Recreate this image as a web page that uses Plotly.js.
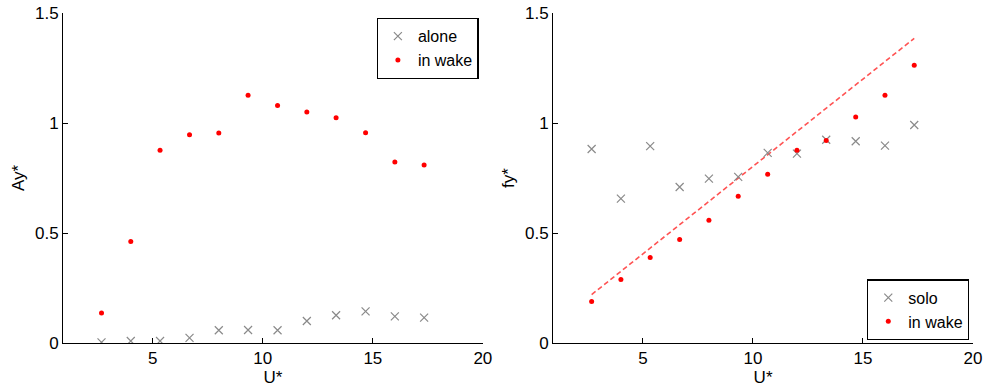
<!DOCTYPE html>
<html>
<head>
<meta charset="utf-8">
<script src="https://cdn.plot.ly/plotly-3.0.1.min.js"></script>
<style>html,body{margin:0;padding:0;background:#fff;}</style>
</head>
<body>
<div id="chart" style="width:984px;height:387px;"></div>
<script>
// Reduced velocity U*
const uStar = [2.67, 4.0, 5.33, 6.67, 8.0, 9.33, 10.67, 12.0, 13.33, 14.67, 16.0, 17.33];
// Left panel: Ay*
const ayAlone = [0.003, 0.009, 0.009, 0.023, 0.058, 0.059, 0.058, 0.100, 0.126, 0.144, 0.121, 0.115];
const ayWake  = [0.136, 0.461, 0.876, 0.947, 0.955, 1.126, 1.079, 1.050, 1.024, 0.956, 0.823, 0.809];
// Right panel: fy*
const fySolo  = [0.882, 0.656, 0.895, 0.709, 0.747, 0.755, 0.864, 0.861, 0.924, 0.917, 0.897, 0.991];
const fyWake  = [0.189, 0.289, 0.389, 0.471, 0.558, 0.667, 0.767, 0.876, 0.921, 1.027, 1.126, 1.262];
// Dashed reference line (right panel)
const fitX = [2.67, 17.33];
const fitY = [0.22, 1.385];

const xTicks = [5, 10, 15, 20];
const yTicks = [0, 0.5, 1, 1.5];
const yTickText = ['0', '0.5', '1', '1.5'];

const FONT = 'Liberation Sans, Arial, Helvetica, sans-serif';
const grayX = {symbol: 'x-thin', size: 8, color: '#8a8a8a', line: {color: '#8a8a8a', width: 1.2}};
const redDot = {symbol: 'circle', size: 5, color: '#ff0000'};

const traces = [
  {x: uStar, y: ayAlone, type: 'scatter', mode: 'markers', name: 'alone', marker: grayX, xaxis: 'x', yaxis: 'y', legend: 'legend'},
  {x: uStar, y: ayWake, type: 'scatter', mode: 'markers', name: 'in wake', marker: redDot, xaxis: 'x', yaxis: 'y', legend: 'legend'},
  {x: fitX, y: fitY, type: 'scatter', mode: 'lines', showlegend: false, line: {color: 'rgba(255,40,40,0.8)', width: 1.6, dash: '5px,3px'}, xaxis: 'x2', yaxis: 'y2', hoverinfo: 'skip'},
  {x: uStar, y: fySolo, type: 'scatter', mode: 'markers', name: 'solo', marker: grayX, xaxis: 'x2', yaxis: 'y2', legend: 'legend2'},
  {x: uStar, y: fyWake, type: 'scatter', mode: 'markers', name: 'in wake', marker: redDot, xaxis: 'x2', yaxis: 'y2', legend: 'legend2'}
];

function xAx(domain, anchor) {
  return {
    domain: domain, anchor: anchor, range: [0.92, 20], tickvals: xTicks,
    showline: true, linecolor: '#000', linewidth: 1, ticks: 'inside', ticklen: 5, tickcolor: '#000',
    showgrid: false, zeroline: false, tickfont: {family: FONT, size: 17, color: '#000'},
    title: {text: 'U*', font: {family: FONT, size: 17, color: '#000'}, standoff: 0}
  };
}
function yAx(anchor, label) {
  return {
    domain: [0, 1], anchor: anchor, range: [0, 1.5], tickvals: yTicks, ticktext: yTickText,
    showline: true, linecolor: '#000', linewidth: 1, ticks: 'inside', ticklen: 5, tickcolor: '#000',
    showgrid: false, zeroline: false, tickfont: {family: FONT, size: 17, color: '#000'},
    title: {text: label, font: {family: FONT, size: 17, color: '#000'}, standoff: 6}
  };
}

const legendFont = {family: FONT, size: 16, color: '#000'};
const layout = {
  width: 984, height: 387,
  margin: {l: 63, r: 10.7, t: 13.3, b: 43.7},
  paper_bgcolor: '#fff', plot_bgcolor: 'rgba(0,0,0,0)',
  font: {family: FONT, size: 17, color: '#000'},
  xaxis: xAx([0, 0.4614], 'y'),
  yaxis: yAx('x', 'Ay*'),
  xaxis2: xAx([0.5386, 1], 'y2'),
  yaxis2: yAx('x2', 'fy*'),
  legend: {x: 0.3446, y: 0.985, xanchor: 'left', yanchor: 'top', bgcolor: '#fff', bordercolor: '#000', borderwidth: 1.3,
           font: legendFont, tracegroupgap: 0, itemwidth: 30},
  legend2: {x: 0.8835, y: 0.008, xanchor: 'left', yanchor: 'bottom', bgcolor: '#fff', bordercolor: '#000', borderwidth: 1.3,
           font: legendFont, tracegroupgap: 0, itemwidth: 30},
  showlegend: true
};

Plotly.newPlot('chart', traces, layout, {displayModeBar: false, staticPlot: true});
</script>
</body>
</html>
